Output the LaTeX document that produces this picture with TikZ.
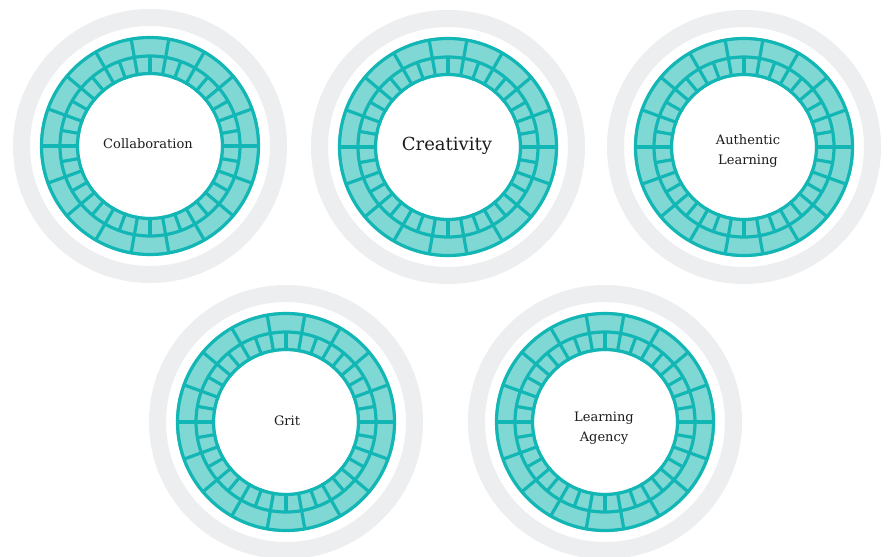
\documentclass[tikz,border=0pt]{standalone}
\usepackage{fontspec}
\newfontfamily\labelfont{DejaVu Serif}
\definecolor{ringgray}{RGB}{237,238,240}
\definecolor{tealline}{RGB}{18,182,181}
\definecolor{tealfill}{RGB}{128,216,212}
\definecolor{labeltext}{RGB}{28,28,28}
\tikzset{
  grayring/.style={draw=ringgray, line width=17pt},
  tealband/.style={draw=tealline, line width=3.2pt},
  lbl/.style={font=\labelfont\fontsize{13}{20}\selectfont, text=labeltext, align=center, inner sep=0pt},
  biglbl/.style={lbl, font=\labelfont\fontsize{18}{20}\selectfont}
}
\newcommand\skillring[2]{%
  \begin{scope}[shift={(#1,#2)}]
    \fill[tealfill, even odd rule] (0,0) circle (110) (0,0) circle (71);
    \draw[tealband] (0,0) circle (108.5) (0,0) circle (90) (0,0) circle (72.5);
    \foreach \a in {0,20,...,340} \draw[tealband] (\a:90) -- (\a:109);
    \foreach \a in {0,10,...,350} \draw[tealband] (\a:71) -- (\a:90);
  \end{scope}}
\begin{document}
\begin{tikzpicture}[x=1pt,y=-1pt]
  \useasboundingbox (0,0) rectangle (887,557);
  \fill[white] (0,0) rectangle (887,557);
  % gray outer rings
  \foreach \cx/\cy in {150/146, 448/147, 744/147, 286/422, 605/422}
    \draw[grayring] (\cx,\cy) circle (128.5);
  % teal rings
  \skillring{150}{146}
  \skillring{448}{147}
  \skillring{744}{147}
  \skillring{286}{422}
  \skillring{605}{422}
  % labels
  \node[lbl] (collab) at (148,144) {Collaboration};
  \node[biglbl] (creat) at (447,146) {Creativity};
  \node[lbl] (auth) at (748,151) {Authentic\\Learning};
  \node[lbl] (grit) at (287,421) {Grit};
  \node[lbl] (agency) at (604,428) {Learning\\Agency};
\end{tikzpicture}
\end{document}
